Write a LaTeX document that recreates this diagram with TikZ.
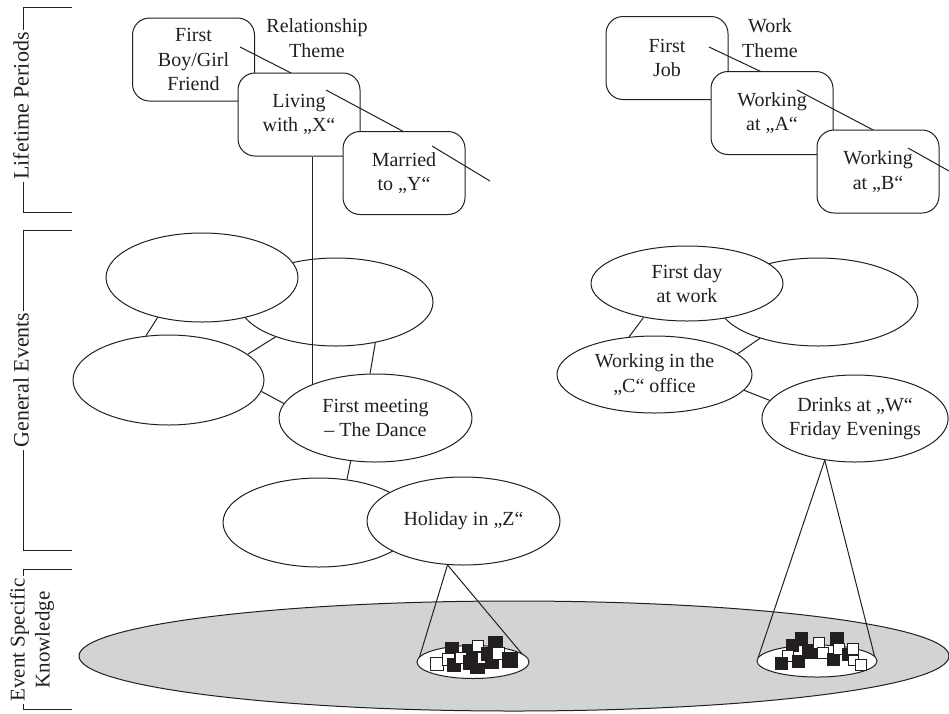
\documentclass[tikz,border=0pt]{standalone}
\usepackage{fontspec}
\setmainfont{Liberation Serif}
\usetikzlibrary{shapes.geometric}
\definecolor{ink}{HTML}{231F20}
\definecolor{esk}{HTML}{D1D3D4}

\begin{document}
\begin{tikzpicture}[x=1pt,y=-1pt,
  every node/.style={font=\fontsize{20}{24.5}\selectfont, text=ink},
  lw/.style={line width=1pt, draw=ink},
  period/.style={lw, rounded corners=17pt, fill=white, minimum width=122pt,
    minimum height=83pt, inner sep=0pt, align=center},
  evt/.style={lw, ellipse, fill=white, inner sep=0pt, align=center},
  link/.style={lw},
  bracket/.style={lw},
  sidelabel/.style={rotate=90, fill=white, inner xsep=2pt, inner ysep=0pt, align=center,
    font=\fontsize{22}{25}\selectfont},
  theme/.style={align=center},
  sq/.style={draw=ink, line width=0.7pt}
]
\useasboundingbox (0,0) rectangle (949,713);

% ---------- memory levels on the left ----------
\draw[bracket] (72,7) -- (23,7) -- (23,212) -- (72,212);
\draw[bracket] (72,230) -- (23,230) -- (23,550) -- (72,550);
\draw[bracket] (72,569) -- (23,569) -- (23,709) -- (72,709);
\node[sidelabel] (lp) at (21,106) {Lifetime Periods};
\node[sidelabel] (ge) at (21,380) {General Events};
\node[sidelabel, font=\fontsize{21}{25}\selectfont] (esk) at (32,640) {Event Specific\\Knowledge};

% ---------- event specific knowledge ----------
\node[lw, ellipse, fill=esk, minimum width=870pt, minimum height=110pt, inner sep=0pt] (base) at (514,656) {};

% ---------- relationship theme ----------
\node[theme] (relth) at (317,38) {Relationship\\Theme};
\node[period] (fbg) at (193.5,59.5) {First\\Boy/Girl\\Friend};
\draw[link] ([shift={(46.5,-12.5)}]fbg.center) -- (295,75);
\node[period] (liv) at (299,114.5) {Living\\with „X“};
\draw[link] ([shift={(27,-24.5)}]liv.center) -- (408,134);
\node[period] (mar) at (404,173) {Married\\to „Y“};
\coordinate (relend) at (490,181);
\draw[link] ([shift={(28,-27)}]mar.center) -- (relend);

% ---------- work theme ----------
\node[theme] (workth) at (770,38) {Work\\Theme};
\node[period] (job) at (667,58) {First\\Job};
\draw[link] ([shift={(42,-11)}]job.center) -- (766,74);
\node[period] (wa) at (772,113) {Working\\at „A“};
\draw[link] ([shift={(25,-23)}]wa.center) -- (877,132);
\node[period] (wb) at (878,171.5) {Working\\at „B“};
\coordinate (workend) at (949,171);
\draw[link] ([shift={(30,-23.5)}]wb.center) -- (workend);

% ---------- general events: relationship ----------
\node[evt, minimum width=194pt, minimum height=88pt] (gb) at (336,302) {};
\node[evt, minimum width=192pt, minimum height=89pt] (ga) at (202,277.5) {};
\node[evt, minimum width=191pt, minimum height=90pt] (gc) at (168.5,380) {};
\draw[link] ([xshift=13pt]liv.south) -- (312,400);
\node[evt, minimum width=193pt, minimum height=88pt] (dance) at (375.5,418) {First meeting\\– The Dance};
\node[evt, minimum width=192pt, minimum height=89pt] (ge1) at (319,522.5) {};
\node[evt, minimum width=193pt, minimum height=88pt] (hol) at (463.5,521) {Holiday in „Z“};
\draw[link] (ga.222) -- (gc.117);
\draw[link] (gb.210) -- (gc.18);
\draw[link] (gb.314) -- (dance.97);
\draw[link] (gc.353) -- (dance.171);
\draw[link] (dance.240) -- (ge1.57);

% ---------- general events: work ----------
\node[evt, minimum width=200pt, minimum height=88pt] (gh) at (818,302) {};
\node[evt, minimum width=192pt, minimum height=75pt] (day) at (687,283.5) {First day\\at work};
\node[evt, minimum width=195pt, minimum height=77pt] (office) at (654.5,374.5) {Working in the\\„C“ office};
\node[evt, minimum width=182pt, minimum height=87pt] (drinks) at (855,418.5) {Drinks at „W“\\Friday Evenings};
\draw[link] (day.218) -- (office.124);
\draw[link] (gh.212) -- (office.14);
\draw[link] (office.350) -- (drinks.168);

% ---------- retrieval cones into event specific knowledge ----------
\draw[link] (hol.250) -- (418,662);
\draw[link] (hol.250) -- (528,661);
\node[lw, ellipse, fill=white, minimum width=112pt, minimum height=33pt, inner sep=0pt] (esk1) at (473,662) {};
\draw[link] (drinks.234) -- (758,658);
\draw[link] (drinks.234) -- (875,658);
\node[lw, ellipse, fill=white, minimum width=120pt, minimum height=32pt, inner sep=0pt] (esk2) at (817,661) {};

% details of the specific episodes
\foreach \x/\y/\s/\c in {
  430/657/13/white, 445/642/13/ink, 442/653/12/white, 447/658/13/ink,
  462/644/14/ink, 455/652/11/white, 463/655/14/ink, 470/659/14/ink,
  472/640/11/white, 477/652/11/white, 481/647/13/ink, 488/636/14/ink,
  485/655/13/ink, 492/647/12/white, 502/652/15/ink}
  \draw[sq, fill=\c] (\x,\y) rectangle ++(\s,\s);
\foreach \x/\y/\s/\c in {
  786/639/12/ink, 795/632/12/ink, 782/650/11/white, 775/657/12/ink,
  792/655/12/ink, 802/644/14/ink, 813/637/11/white, 817/647/11/white,
  827/653/12/ink, 830/632/13/ink, 833/643/11/white, 842/648/12/ink,
  847/643/11/white, 848/655/10/white, 855/659/11/white}
  \draw[sq, fill=\c] (\x,\y) rectangle ++(\s,\s);
\end{tikzpicture}
\end{document}
